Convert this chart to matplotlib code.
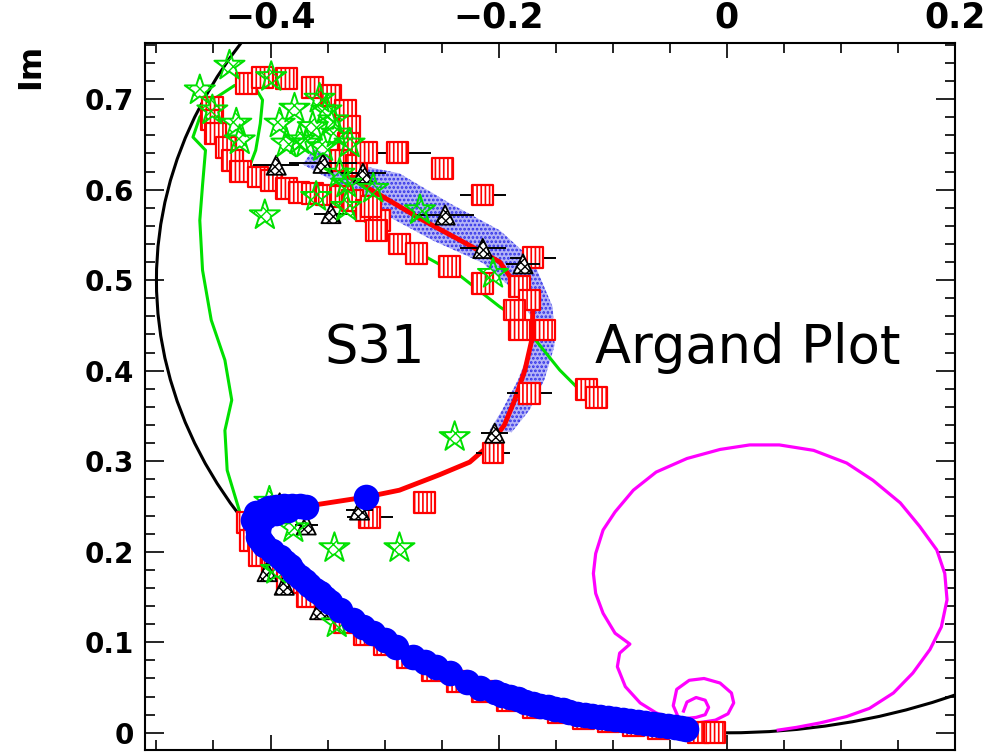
import matplotlib
matplotlib.use("Agg")
import matplotlib.pyplot as plt
from matplotlib.patches import Circle, Polygon
from matplotlib.ticker import MultipleLocator, FuncFormatter

# ---------------- data (Re, Im) ----------------
# partial-wave solution: blue filled circles
blue_re = [-0.4125, -0.401, -0.388, -0.3746, -0.3687, -0.410, -0.4114, -0.4053, -0.392,
           -0.383, -0.3746, -0.366, -0.357, -0.348, -0.3395, -0.328, -0.319, -0.310,
           -0.300, -0.290, -0.275, -0.265, -0.2546, -0.243, -0.228, -0.2167, -0.2035,
           -0.190, -0.177, -0.164, -0.151, -0.138, -0.1246, -0.111, -0.098, -0.085,
           -0.072, -0.059, -0.0456, -0.036, -0.316,
           -0.405, -0.395, -0.381, -0.411, -0.408, -0.399, -0.387, -0.379, -0.370,
           -0.361, -0.352, -0.197, -0.183, -0.170,
           -0.157, -0.144, -0.131, -0.118, -0.104, -0.091, -0.078, -0.065, -0.052,
           -0.040, -0.415, -0.405, -0.395, -0.385]
blue_im = [0.2425, 0.248, 0.2505, 0.2505, 0.2498, 0.230, 0.2167, 0.2075, 0.1946,
           0.184, 0.1726, 0.163, 0.154, 0.1446, 0.1357, 0.1247, 0.117, 0.110,
           0.1026, 0.095, 0.084, 0.078, 0.073, 0.066, 0.056, 0.0497, 0.045,
           0.040, 0.034, 0.030, 0.0265, 0.023, 0.020, 0.0177, 0.0155, 0.013,
           0.011, 0.009, 0.0066, 0.0044, 0.261,
           0.246, 0.249, 0.251, 0.223, 0.212, 0.201, 0.189, 0.178, 0.168,
           0.158, 0.149, 0.042, 0.037, 0.032,
           0.028, 0.025, 0.021, 0.019, 0.016, 0.014, 0.012, 0.010, 0.008,
           0.005, 0.235, 0.238, 0.243, 0.246]

# single-energy points: red hatched squares
sq_re = [-0.421, -0.407, -0.386, -0.363, -0.347, -0.334, -0.331, -0.451, -0.452, -0.448,
         -0.439, -0.433, -0.426, -0.411, -0.399, -0.386, -0.375, -0.363, -0.351, -0.339,
         -0.328, -0.316, -0.304, -0.332, -0.339, -0.325, -0.316, -0.289, -0.249, -0.214,
         -0.170, -0.312, -0.307, -0.287, -0.272, -0.243, -0.214, -0.182, -0.173, -0.186,
         -0.182, -0.160, -0.173, -0.205, -0.265, -0.313, -0.123, -0.114,
         -0.420, -0.418, -0.410, -0.398, -0.385, -0.368, -0.352, -0.335, -0.318, -0.300,
         -0.280, -0.258, -0.236, -0.214, -0.192, -0.170, -0.148, -0.126, -0.104, -0.082,
         -0.060, -0.025, -0.011]
sq_im = [0.717, 0.724, 0.723, 0.713, 0.704, 0.688, 0.670, 0.691, 0.677, 0.662,
         0.647, 0.632, 0.620, 0.614, 0.610, 0.601, 0.597, 0.596, 0.594, 0.592,
         0.588, 0.577, 0.566, 0.651, 0.632, 0.627, 0.641, 0.641, 0.623, 0.594,
         0.525, 0.581, 0.555, 0.540, 0.529, 0.515, 0.496, 0.493, 0.478, 0.467,
         0.445, 0.445, 0.375, 0.309, 0.254, 0.238, 0.379, 0.370,
         0.232, 0.212, 0.196, 0.180, 0.166, 0.150, 0.137, 0.122, 0.108, 0.097,
         0.083, 0.069, 0.057, 0.046, 0.036, 0.028, 0.022, 0.016, 0.012, 0.008,
         0.005, 0.0, 0.0]
sq_err = [0, 0, 0, 0, 0, 0, 0, 0, 0, 0,
          0, 0, 0, 0, 0, 0, 0, 0, 0, 0,
          0, 0, 0, 0, 0, 0, 0.03, 0.03, 0, 0.02,
          0.02, 0, 0, 0, 0, 0, 0, 0, 0, 0,
          0, 0, 0.02, 0.015, 0, 0.02, 0, 0,
          0, 0, 0, 0, 0, 0, 0, 0, 0, 0,
          0, 0, 0, 0, 0, 0, 0, 0, 0, 0,
          0, 0, 0]

# second single-energy set: green hatched stars
star_re = [-0.436, -0.462, -0.451, -0.430, -0.427, -0.3994, -0.379, -0.392, -0.386, -0.3746,
           -0.357, -0.351, -0.345, -0.363, -0.3687, -0.342, -0.3307, -0.354, -0.3395, -0.3336,
           -0.360, -0.3336, -0.310, -0.405, -0.269, -0.205, -0.2386, -0.344, -0.287, -0.401,
           -0.380, -0.395, -0.342]
star_im = [0.737, 0.7097, 0.6876, 0.673, 0.6545, 0.7244, 0.6895, 0.673, 0.651, 0.6545,
           0.7005, 0.6876, 0.6766, 0.6692, 0.651, 0.662, 0.651, 0.647, 0.6177, 0.6067,
           0.592, 0.581, 0.601, 0.5717, 0.5773, 0.507, 0.3267, 0.204, 0.204, 0.2553,
           0.226, 0.180, 0.121]

# third set: black hatched triangles with errors on Re
tri_re = [-0.395, -0.354, -0.347, -0.319, -0.247, -0.214, -0.1787, -0.2035, -0.392, -0.322,
          -0.3687, -0.403, -0.388, -0.357]
tri_im = [0.627, 0.629, 0.5735, 0.618, 0.572, 0.535, 0.518, 0.331, 0.254, 0.246,
          0.2296, 0.178, 0.163, 0.136]
tri_err = [0.02, 0.03, 0.015, 0.02, 0.025, 0.02, 0.015, 0.012, 0.01, 0.012,
           0.01, 0.0, 0.0, 0.0]

# energy-dependent fit (red curve)
fit_re = [-0.3675, -0.316, -0.287, -0.252, -0.2254, -0.208, -0.195, -0.186, -0.177, -0.171,
          -0.170, -0.188, -0.199, -0.234, -0.269, -0.304, -0.331, -0.3395]
fit_im = [0.2505, 0.2605, 0.268, 0.285, 0.299, 0.318, 0.340, 0.3675, 0.4007, 0.434,
          0.470, 0.500, 0.520, 0.5442, 0.568, 0.594, 0.614, 0.627]

# error band of the fit
band_hi_re = [-0.362, -0.3307, -0.287, -0.243, -0.199, -0.170, -0.1526, -0.151, -0.160, -0.173,
              -0.1886]
band_hi_im = [0.645, 0.629, 0.618, 0.585, 0.555, 0.522, 0.470, 0.428, 0.390, 0.3565, 0.332]
band_lo_re = [-0.372, -0.3456, -0.302, -0.258, -0.214, -0.184, -0.170, -0.173, -0.183, -0.197,
              -0.208]
band_lo_im = [0.628, 0.610, 0.574, 0.544, 0.519, 0.486, 0.456, 0.423, 0.390, 0.3565, 0.334]

# alternative fit (green curve)
alt_re = [-0.427, -0.438, -0.440, -0.434, -0.440, -0.452, -0.4596, -0.462, -0.4596, -0.457,
          -0.468, -0.462, -0.451, -0.4316, -0.412, -0.407, -0.409, -0.413, -0.418, -0.399,
          -0.375, -0.340, -0.307, -0.270, -0.234, -0.199, -0.1816, -0.164, -0.1465, -0.129,
          -0.111]
alt_im = [0.244, 0.290, 0.334, 0.3675, 0.4117, 0.456, 0.511, 0.566, 0.605, 0.6435,
          0.658, 0.680, 0.699, 0.715, 0.7097, 0.699, 0.673, 0.6435, 0.627, 0.607,
          0.597, 0.588, 0.555, 0.530, 0.505, 0.4705, 0.456, 0.428, 0.4007, 0.3786,
          0.362]

# model prediction (magenta curve)
mod_re = [-0.038, -0.035, -0.027, -0.019, -0.016, -0.019, -0.027, -0.035, -0.041,
          -0.047, -0.044, -0.033, -0.020, -0.006, 0.004, 0.006, 0.001, -0.010, -0.025, -0.041,
          -0.062, -0.076, -0.089, -0.096, -0.094, -0.085, -0.098, -0.1085, -0.115, -0.117,
          -0.115, -0.1085, -0.098, -0.082, -0.062, -0.035, -0.006, 0.020, 0.046, 0.076,
          0.105, 0.128, 0.152, 0.169, 0.184, 0.191, 0.193, 0.188, 0.178, 0.163,
          0.146, 0.125, 0.105, 0.082, 0.061, 0.045]
mod_im = [0.024, 0.034, 0.039, 0.036, 0.028, 0.020, 0.017, 0.016, 0.0125,
          0.030, 0.048, 0.058, 0.060, 0.055, 0.044, 0.033, 0.021, 0.014, 0.011, 0.0125,
          0.022, 0.033, 0.051, 0.073, 0.088, 0.098, 0.110, 0.132, 0.154, 0.176,
          0.198, 0.224, 0.244, 0.268, 0.288, 0.303, 0.313, 0.318, 0.318, 0.312,
          0.298, 0.279, 0.254, 0.228, 0.202, 0.176, 0.147, 0.117, 0.092, 0.066,
          0.044, 0.027, 0.018, 0.011, 0.006, 0.003]

# unitarity circle
circ_center = (0.0, 0.5)
circ_radius = 0.5

x_limits = (-0.51, 0.2)
y_limits = (-0.019, 0.762)

# ---------------- figure ----------------
fig = plt.figure(figsize=(9.86, 7.54), dpi=100)
ax = fig.add_axes([0.1471, 0.0053, 0.8215, 0.9377])
ax.set_xlim(*x_limits)
ax.set_ylim(*y_limits)

ax.add_patch(Circle(circ_center, circ_radius, fill=False, ec="black", lw=2.2, zorder=2))
ax.plot(mod_re, mod_im, color="#ff00ff", lw=2.3, zorder=2, solid_joinstyle="round")

band_xy = list(zip(band_hi_re, band_hi_im)) + list(zip(band_lo_re[::-1], band_lo_im[::-1]))
with plt.rc_context({"hatch.linewidth": 1.3}):
    ax.add_patch(Polygon(band_xy, closed=True, fc="#b4b4f6", ec="#3030e8", lw=0,
                         hatch="....", zorder=3))

ax.plot(alt_re, alt_im, color="#00e000", lw=2.2, zorder=4)
ax.plot(fit_re, fit_im, color="#ff0000", lw=3.5, zorder=4)

with plt.rc_context({"hatch.color": "#ff0000", "hatch.linewidth": 1.2}):
    ax.errorbar(sq_re, sq_im, xerr=sq_err, fmt="none", ecolor="black", elinewidth=1.4, zorder=5)
    ax.scatter(sq_re, sq_im, s=225, marker="s", facecolors="white", edgecolors="#ff0000",
               linewidths=1.6, hatch="||||", zorder=6)

with plt.rc_context({"hatch.color": "black", "hatch.linewidth": 1.0}):
    ax.errorbar(tri_re, tri_im, xerr=tri_err, fmt="none", ecolor="black", elinewidth=1.4, zorder=6)
    ax.scatter(tri_re, tri_im, s=190, marker="^", facecolors="white", edgecolors="black",
               linewidths=1.3, hatch="xxxx", zorder=7)

with plt.rc_context({"hatch.color": "#00e000", "hatch.linewidth": 1.0}):
    ax.scatter(star_re, star_im, s=520, marker="*", facecolors="none", edgecolors="#00e000",
               linewidths=1.4, hatch="xxx", zorder=8)

ax.scatter(blue_re, blue_im, s=340, marker="o", color="#0000ff", linewidths=0, zorder=9)

# titles inside the frame
ax.text(-0.309, 0.425, "S31", fontsize=38, family="DejaVu Sans", ha="center", va="center", zorder=10)
ax.text(0.018, 0.425, "Argand Plot", fontsize=38, family="DejaVu Sans", ha="center", va="center",
        zorder=10)

# ---------------- axes styling ----------------
for sp in ax.spines.values():
    sp.set_linewidth(1.5)

ax.xaxis.set_major_locator(MultipleLocator(0.2))
ax.xaxis.set_minor_locator(MultipleLocator(0.05))
ax.yaxis.set_major_locator(MultipleLocator(0.1))
ax.yaxis.set_minor_locator(MultipleLocator(0.02))


def fmt(v, _):
    if abs(v) < 1e-9:
        return "0"
    return ("%.1f" % v).replace("-", "\u2212")


ax.xaxis.set_major_formatter(FuncFormatter(fmt))
ax.yaxis.set_major_formatter(FuncFormatter(fmt))

ax.tick_params(axis="x", which="both", direction="in", top=True, bottom=True,
               labeltop=True, labelbottom=False, width=1.2, pad=6)
ax.tick_params(axis="x", which="major", length=11)
ax.tick_params(axis="x", which="minor", length=7)
ax.tick_params(axis="y", which="both", direction="in", left=True, right=True, width=1.2, pad=8)
ax.tick_params(axis="y", which="major", length=14)
ax.tick_params(axis="y", which="minor", length=7)

for lab in ax.get_xticklabels():
    lab.set_family(["Liberation Sans Narrow", "DejaVu Sans"])
    lab.set_fontweight("bold")
    lab.set_fontsize(25)
for lab in ax.get_yticklabels():
    lab.set_family("DejaVu Sans")
    lab.set_fontweight("bold")
    lab.set_fontsize(20)

fig.text(0.031, 0.912, "Im", rotation=90, ha="center", va="center", fontsize=23,
         fontweight="bold", family="DejaVu Sans")

fig.savefig("out.png", dpi=100)
